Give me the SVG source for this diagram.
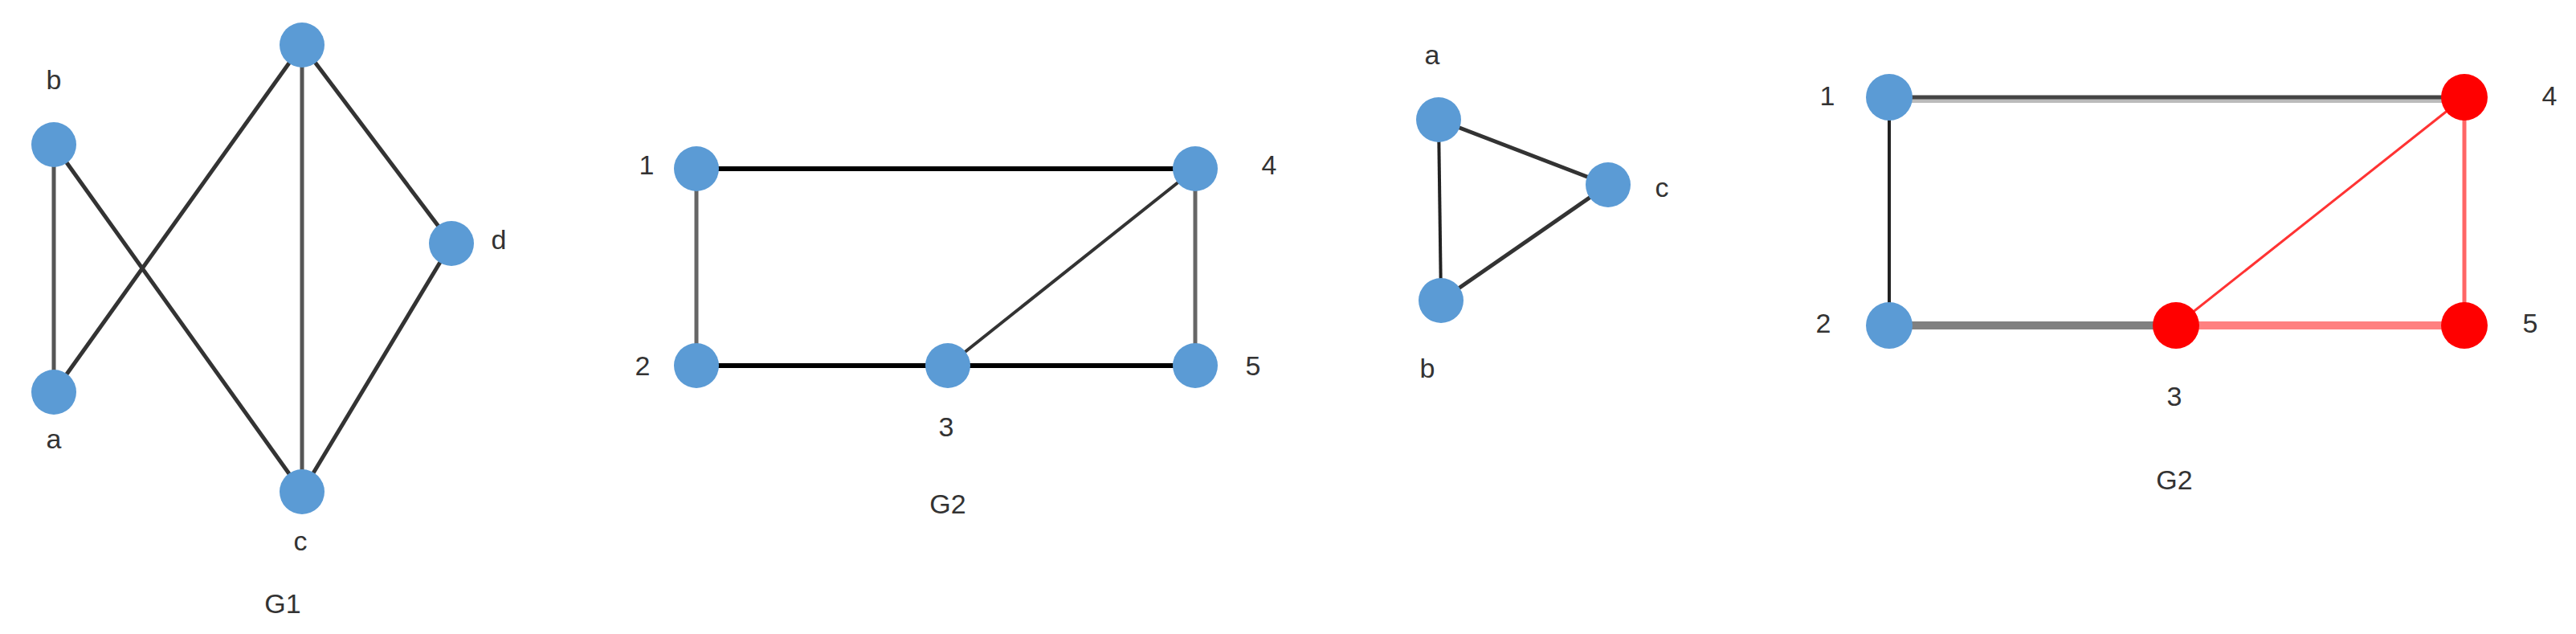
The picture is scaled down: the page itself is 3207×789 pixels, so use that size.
<svg xmlns="http://www.w3.org/2000/svg" width="3207" height="789" viewBox="0 0 3207 789">
<style>
.n{fill:#5b9bd5}
.r{fill:#ff0000}
text{font-family:"Liberation Sans",Arial,sans-serif;font-size:34px;fill:#333;text-anchor:middle;dominant-baseline:central}
line{stroke-linecap:butt}
</style>
<rect width="3207" height="789" fill="#fff"/>
<g id="connectors">
<line x1="67" y1="180" x2="67" y2="488" stroke="#555" stroke-width="5"/>
<line x1="67" y1="180" x2="376" y2="612" stroke="#333" stroke-width="5"/>
<line x1="67" y1="488" x2="376" y2="56" stroke="#333" stroke-width="5"/>
<line x1="376" y1="56" x2="376" y2="612" stroke="#555" stroke-width="5"/>
<line x1="376" y1="56" x2="562" y2="303" stroke="#333" stroke-width="5"/>
<line x1="562" y1="303" x2="376" y2="612" stroke="#333" stroke-width="5"/>
<line x1="867" y1="210" x2="1488" y2="210" stroke="#000" stroke-width="6"/>
<line x1="867" y1="455" x2="1488" y2="455" stroke="#000" stroke-width="6"/>
<line x1="867" y1="210" x2="867" y2="455" stroke="#666" stroke-width="5"/>
<line x1="1488" y1="210" x2="1488" y2="455" stroke="#666" stroke-width="5"/>
<line x1="1180" y1="455" x2="1488" y2="210" stroke="#333" stroke-width="4"/>
<line x1="1791" y1="149" x2="2002" y2="230" stroke="#333" stroke-width="5"/>
<line x1="1791" y1="149" x2="1794" y2="374" stroke="#222" stroke-width="4"/>
<line x1="1794" y1="374" x2="2002" y2="230" stroke="#333" stroke-width="5"/>
<line x1="2352" y1="125" x2="3068" y2="125" stroke="#bbb" stroke-width="6"/>
<line x1="2352" y1="121" x2="3068" y2="121" stroke="#444" stroke-width="5"/>
<line x1="2352" y1="121" x2="2352" y2="405" stroke="#222" stroke-width="4"/>
<line x1="2352" y1="405" x2="2709" y2="405" stroke="#808080" stroke-width="10"/>
<line x1="2709" y1="405" x2="3068" y2="405" stroke="#ff8080" stroke-width="10"/>
<line x1="3068" y1="121" x2="3068" y2="405" stroke="#ff6666" stroke-width="5"/>
<line x1="2709" y1="405" x2="3068" y2="121" stroke="#ff3333" stroke-width="3"/>
</g>
<g id="g1-b"><circle class="n" cx="67" cy="180" r="28"/><text x="67" y="99">b</text></g>
<g id="g1-a"><circle class="n" cx="67" cy="488" r="28"/><text x="67" y="546">a</text></g>
<g id="g1-top"><circle class="n" cx="376" cy="56" r="28"/></g>
<g id="g1-d"><circle class="n" cx="562" cy="303" r="28"/><text x="621" y="298">d</text></g>
<g id="g1-c"><circle class="n" cx="376" cy="612" r="28"/><text x="374" y="673">c</text></g>
<text x="352" y="751">G1</text>
<g id="g2-1"><circle class="n" cx="867" cy="210" r="28"/><text x="805" y="205">1</text></g>
<g id="g2-4"><circle class="n" cx="1488" cy="210" r="28"/><text x="1580" y="205">4</text></g>
<g id="g2-2"><circle class="n" cx="867" cy="455" r="28"/><text x="800" y="455">2</text></g>
<g id="g2-3"><circle class="n" cx="1180" cy="455" r="28"/><text x="1178" y="531">3</text></g>
<g id="g2-5"><circle class="n" cx="1488" cy="455" r="28"/><text x="1560" y="455">5</text></g>
<text x="1180" y="627">G2</text>
<g id="t-a"><circle class="n" cx="1791" cy="149" r="28"/><text x="1783" y="68">a</text></g>
<g id="t-c"><circle class="n" cx="2002" cy="230" r="28"/><text x="2069" y="233">c</text></g>
<g id="t-b"><circle class="n" cx="1794" cy="374" r="28"/><text x="1777" y="458">b</text></g>
<g id="h-1"><circle class="n" cx="2352" cy="121" r="29"/><text x="2275" y="119">1</text></g>
<g id="h-4"><circle class="r" cx="3068" cy="121" r="29"/><text x="3174" y="119">4</text></g>
<g id="h-2"><circle class="n" cx="2352" cy="405" r="29"/><text x="2270" y="402">2</text></g>
<g id="h-3"><circle class="r" cx="2709" cy="405" r="29"/><text x="2707" y="493">3</text></g>
<g id="h-5"><circle class="r" cx="3068" cy="405" r="29"/><text x="3150" y="402">5</text></g>
<text x="2707" y="597">G2</text>
</svg>
